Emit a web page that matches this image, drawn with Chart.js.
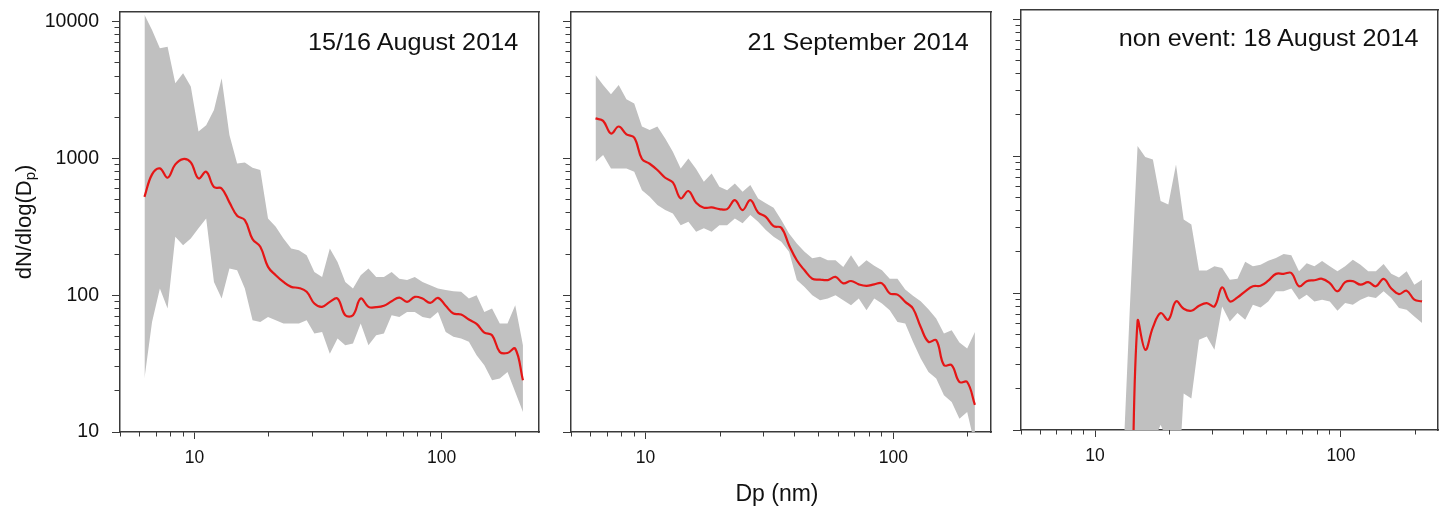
<!DOCTYPE html>
<html>
<head>
<meta charset="utf-8">
<script src="https://cdn.jsdelivr.net/npm/chart.js@4.4.1/dist/chart.umd.min.js"></script>
<style>
  html, body { margin: 0; padding: 0; background: #fff; }
  #wrap { position: relative; width: 1441px; height: 512px; overflow: hidden; font-family: "Liberation Sans", Arial, sans-serif; color: #111; }
  canvas { position: absolute; top: 0; }
  .tag { position: absolute; font-size: 24px; line-height: 24px; white-space: nowrap; transform: scaleX(1.05); transform-origin: right center; }
  #xtitle { position: absolute; left: 677px; top: 482px; width: 200px; text-align: center; font-size: 23px; line-height: 23px; }
  #ytitle { position: absolute; left: -76px; top: 207px; width: 200px; height: 30px; line-height: 30px; text-align: center; font-size: 22px; transform: rotate(-90deg); }
  #ytitle sub { font-size: 0.68em; line-height: 0; vertical-align: -0.3em; }
</style>
</head>
<body>
<div id="wrap">
  <canvas id="c1" width="550" height="512" style="left:0px"></canvas>
  <canvas id="c2" width="460" height="512" style="left:550px"></canvas>
  <canvas id="c3" width="441" height="512" style="left:1000px"></canvas>
  <div class="tag" style="right:923px; top:30px">15/16 August 2014</div>
  <div class="tag" style="right:472px; top:30px">21 September 2014</div>
  <div class="tag" style="right:22px; top:26px">non event: 18 August 2014</div>
  <div id="xtitle">Dp (nm)</div>
  <div id="ytitle">dN/dlog(D<sub>p</sub>)</div>
</div>
<script>
// particle diameter bins (nm), shared by the three panels
const dp = [6.28, 6.74, 7.25, 7.79, 8.37, 9.00, 9.67, 10.39, 11.16, 12.00,
  12.89, 13.86, 14.89, 16.00, 17.19, 18.48, 19.86, 21.34, 22.93, 24.64,
  26.48, 28.46, 30.58, 32.87, 35.32, 37.95, 40.79, 43.83, 47.10, 50.62,
  54.40, 58.46, 62.82, 67.51, 72.55, 77.96, 83.78, 90.03, 96.75, 103.97,
  111.73, 120.07, 129.03, 138.66, 149.01, 160.13, 172.08, 184.93, 198.73, 213.56];

// 15/16 August 2014
const aug15Mean = [524, 764, 845, 722, 904, 989, 935, 714, 799, 617,
  603, 477, 381, 354, 257, 226, 161, 140, 125, 115,
  113, 106, 86.9, 82.2, 89.4, 94.5, 71.4, 71.4, 94.5, 82.2,
  81.7, 83.6, 90.4, 96.1, 89.4, 97.2, 94.5, 87.9, 95.6, 83.6,
  73.4, 72.2, 66.4, 61.7, 53.3, 51, 38.5, 37.8, 40.7, 23.9];
const aug15Upper = [11200, 8690, 6380, 6560, 3540, 4190, 3350, 1570, 1750, 2260,
  3850, 1480, 919, 935, 855, 822, 364, 316, 260, 219,
  213, 196, 148, 136, 219, 175, 125, 112, 140, 157,
  136, 136, 148, 132, 129, 136, 125, 118, 112, 109,
  107, 106, 94.5, 100, 75.5, 79.9, 62, 62, 84.5, 43];
const aug15Lower = [24.6, 63.8, 112, 79.9, 267, 232, 260, 308, 364, 125,
  94.5, 157, 152, 112, 65.6, 63.8, 69.4, 65.6, 62, 62,
  62, 65.6, 52.4, 53.9, 37.4, 48.2, 43.1, 44.3, 62, 43.1,
  51, 52.4, 71.4, 69.4, 75.5, 75.5, 69.4, 67.5, 75.5, 53.9,
  49.6, 48.2, 45.6, 36.4, 30.8, 23.9, 24.6, 27.5, 19.6, 14.0];

// 21 September 2014
const sep21Mean = [1960, 1880, 1520, 1710, 1500, 1420, 989, 914, 822, 722,
  667, 510, 577, 474, 436, 438, 426, 426, 496, 419,
  496, 403, 374, 320, 311, 232, 180, 152, 132, 130,
  129, 136, 122, 127, 120, 117, 120, 122, 103, 101,
  89.4, 79.9, 58.6, 45.6, 46.9, 30.8, 30.8, 23.2, 23.2, 15.8];
const sep21Upper = [4070, 3440, 2940, 3440, 2700, 2520, 1710, 1610, 1710, 1400,
  1120, 845, 1000, 836, 675, 777, 621, 586, 656, 570,
  638, 510, 469, 436, 354, 283, 239, 208, 186, 191,
  180, 180, 161, 196, 161, 180, 164, 152, 132, 132,
  110, 99, 90.4, 79, 67.5, 52.4, 55.5, 45.1, 40.7, 53.9];
const sep21Lower = [945, 1058, 845, 845, 845, 799, 586, 524, 456, 419,
  396, 325, 344, 291, 308, 291, 325, 325, 364, 335,
  385, 344, 299, 267, 246, 208, 129, 115, 100, 91.9,
  94.5, 100, 91.9, 84.5, 94.5, 77.7, 94.5, 86.9, 77.7, 63.8,
  62, 45.6, 34.4, 27.5, 24.6, 18.6, 16.6, 12.5, 14, 8];

// non event: 18 August 2014 (nothing measured in the smallest bins)
const aug18Mean = [null, null, null, null, null, null, null, null, null, null,
  0.3, 1, 62, 38.5, 56.1, 71.4, 63.8, 86.9, 76.8, 74.2,
  80.8, 84.5, 79.9, 110, 86.9, 93, 103, 112, 113, 123,
  138, 138, 140, 112, 122, 124, 127, 118, 103, 120,
  122, 115, 120, 112, 127, 108, 98.3, 104, 89.4, 86.9];
const aug18Upper = [null, null, null, null, null, null, null, null, null, null,
  4, 80, 1183, 983, 945, 469, 443, 869, 344, 316,
  146, 146, 157, 152, 125, 127, 169, 157, 161, 172,
  180, 193, 189, 144, 165, 157, 171, 157, 144, 157,
  175, 161, 144, 144, 163, 138, 130, 144, 115, 125];
const aug18Lower = [null, null, null, null, null, null, null, null, null, null,
  0.5, 1, 1, 1.5, 8, 10.9, 8, 2, 18.5, 17,
  45.6, 48.2, 38.5, 79.9, 62, 71.4, 63.8, 82.2, 78.5, 86.9,
  103, 103, 108, 89.4, 97.2, 86.9, 89.4, 86.9, 74.2, 84.5,
  82.2, 89.4, 94.5, 91.9, 103, 91.9, 77.7, 75.5, 67.5, 60.3];

// axis ticks
const xMajorTicks = [10, 100];
const xMinorTicks = [5, 6, 7, 8, 9, 20, 30, 40, 50, 60, 70, 80, 90, 200];
const yMajorTicks = [10, 100, 1000, 10000];
const yMinorTicks = [20, 30, 40, 50, 60, 70, 80, 90, 200, 300, 400, 500, 600, 700, 800, 900,
  2000, 3000, 4000, 5000, 6000, 7000, 8000, 9000];

const FONT = '"Liberation Sans", Arial, sans-serif';
const AXIS = '#3a3a3a';
const BAND = '#c0c0c0';
const RED = '#e51616';

function pairs(ys) {
  return dp.map((d, i) => ({ x: d, y: ys[i] }));
}

function setTicks(list) {
  return (scale) => { scale.ticks = list.map((v) => ({ value: v })); };
}

// axes keep the label overflow out of the layout, so the plot boxes line up
function fixSize(w, h) {
  return (s) => {
    if (w !== null) s.width = w;
    if (h !== null) s.height = h;
    s.paddingTop = 0; s.paddingBottom = 0; s.paddingLeft = 0; s.paddingRight = 0;
  };
}

function frameAxis(pos) {
  return {
    type: 'linear', position: pos, min: 0, max: 1,
    grid: { display: false },
    ticks: { display: false },
    border: { display: true, color: AXIS, width: 1.5 },
    afterFit: pos === 'top' ? fixSize(null, 0) : fixSize(0, null),
  };
}

function buildScales(showLabels, yWidth) {
  return {
    x: {
      type: 'logarithmic', position: 'bottom', min: 5, max: 248, weight: 1,
      afterBuildTicks: setTicks(xMajorTicks),
      afterFit: fixSize(null, 50),
      grid: { display: true, drawOnChartArea: false, tickLength: 7, tickColor: AXIS, tickWidth: 1 },
      border: { display: true, color: AXIS, width: 1.5 },
      ticks: { autoSkip: false, maxRotation: 0, padding: 9, color: '#111',
        font: { family: FONT, size: 17.5 }, callback: (v) => String(v) },
    },
    xMinor: {
      type: 'logarithmic', position: 'bottom', min: 5, max: 248, weight: 0,
      afterBuildTicks: setTicks(xMinorTicks),
      afterFit: fixSize(null, 0),
      grid: { display: true, drawOnChartArea: false, tickLength: 4.5, tickColor: AXIS, tickWidth: 1 },
      border: { display: false },
      ticks: { display: false, autoSkip: false },
    },
    y: {
      type: 'logarithmic', position: 'left', min: 10, max: 11750, weight: 1,
      afterBuildTicks: setTicks(yMajorTicks),
      afterFit: fixSize(yWidth, null),
      grid: { display: true, drawOnChartArea: false, tickLength: 8, tickColor: AXIS, tickWidth: 1 },
      border: { display: true, color: AXIS, width: 1.5 },
      ticks: { display: showLabels, autoSkip: false, padding: 13, color: '#111',
        font: { family: FONT, size: 19.5 }, callback: (v) => String(v) },
    },
    yMinor: {
      type: 'logarithmic', position: 'left', min: 10, max: 11750, weight: 0,
      afterBuildTicks: setTicks(yMinorTicks),
      afterFit: fixSize(0, null),
      grid: { display: true, drawOnChartArea: false, tickLength: 5.5, tickColor: AXIS, tickWidth: 1 },
      border: { display: false },
      ticks: { display: false, autoSkip: false },
    },
    xTop: frameAxis('top'),
    yRight: frameAxis('right'),
  };
}

function makePanel(id, mean, upper, lower, showLabels, yWidth, padding) {
  new Chart(document.getElementById(id), {
    type: 'line',
    data: {
      datasets: [
        { data: pairs(mean), borderColor: RED, borderWidth: 2.2, tension: 0.4,
          pointRadius: 0, fill: false },
        { data: pairs(upper), borderWidth: 0, borderColor: 'rgba(0,0,0,0)', pointRadius: 0,
          backgroundColor: BAND, fill: '+1', tension: 0 },
        { data: pairs(lower), borderWidth: 0, borderColor: 'rgba(0,0,0,0)', pointRadius: 0,
          backgroundColor: BAND, fill: false, tension: 0 },
      ],
    },
    options: {
      responsive: false,
      animation: false,
      layout: { padding: padding },
      plugins: { legend: { display: false }, tooltip: { enabled: false } },
      scales: buildScales(showLabels, yWidth),
    },
  });
}

makePanel('c1', aug15Mean, aug15Upper, aug15Lower, true, 120, { left: 0, right: 11, top: 12, bottom: 30 });
makePanel('c2', sep21Mean, sep21Upper, sep21Lower, false, 21, { left: 0, right: 19, top: 12, bottom: 30 });
makePanel('c3', aug18Mean, aug18Upper, aug18Lower, false, 21, { left: 0, right: 3, top: 9.5, bottom: 32 });
</script>
</body>
</html>
